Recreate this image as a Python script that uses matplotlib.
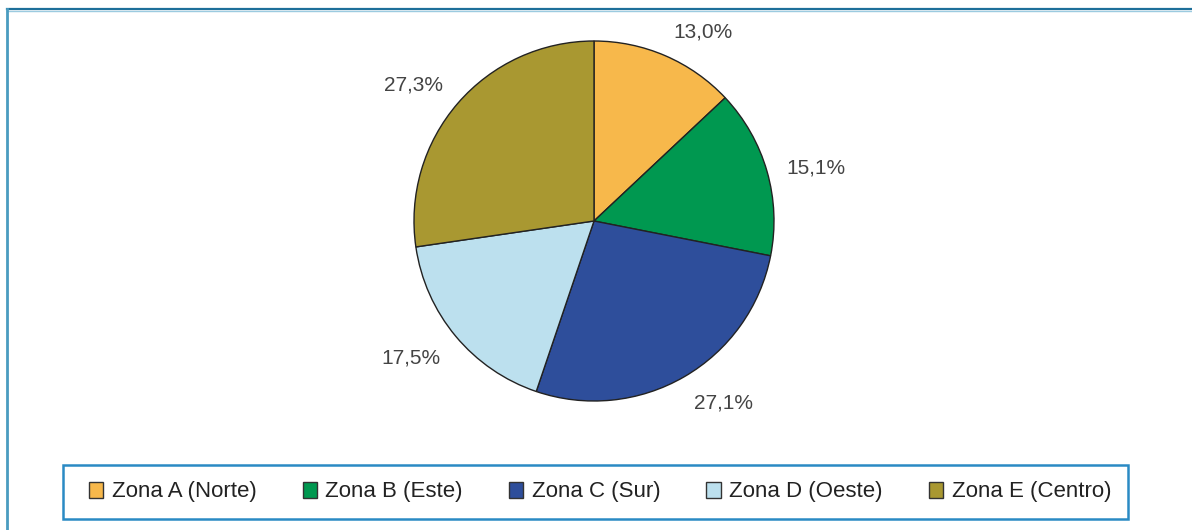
import numpy as np
import matplotlib.pyplot as plt
from matplotlib.lines import Line2D
from matplotlib.patches import Patch, Rectangle

# Datos
zonas = ['Zona A (Norte)', 'Zona B (Este)', 'Zona C (Sur)', 'Zona D (Oeste)', 'Zona E (Centro)']
porcentajes = [13.0, 15.1, 27.1, 17.5, 27.3]
colores = ['#F7B84B', '#009850', '#2E4E9B', '#BCE0EE', '#A99831']

plt.rcParams['font.family'] = ['Liberation Sans', 'DejaVu Sans']

W, H = 1192, 530
fig = plt.figure(figsize=(W / 100, H / 100), dpi=100)

# marco exterior
fig.add_artist(Line2D([7 / W, 1], [1 - 9 / H, 1 - 9 / H], color='#1d6f9a', lw=1.6))
fig.add_artist(Line2D([7 / W, 1], [1 - 10.5 / H, 1 - 10.5 / H], color='#9ccbe0', lw=1.0))
fig.add_artist(Line2D([7.5 / W, 7.5 / W], [0, 1 - 9 / H], color='#4a9cc0', lw=2.0))

# tarta
cx, cy, r = 594, 221, 180
ax = fig.add_axes([(cx - r) / W, (H - cy - r) / H, 2 * r / W, 2 * r / H])
wedges, _ = ax.pie(porcentajes, colors=colores, startangle=90, counterclock=False,
                   wedgeprops=dict(edgecolor='#222222', linewidth=1.0))
ax.set_xlim(-1, 1)
ax.set_ylim(-1, 1)
ax.set_aspect('equal')

# etiquetas fuera del borde, ancladas por la esquina mas cercana
R = 1.11
for w, p in zip(wedges, porcentajes):
    ang = np.deg2rad((w.theta1 + w.theta2) / 2)
    x, y = R * np.cos(ang), R * np.sin(ang)
    ha = 'left' if x > 0 else 'right'
    if abs(np.sin(ang)) < 0.3:
        va = 'center_baseline'
    elif y > 0:
        va = 'baseline'
    else:
        va = 'top'
    ax.text(x, y, f'{p:.1f}'.replace('.', ',') + '%', ha=ha, va=va,
            fontsize=15, color='#444444', clip_on=False)

# caja de la leyenda
fig.add_artist(Rectangle((63 / W, (H - 519) / H), 1065 / W, 54 / H, fill=False,
                         edgecolor='#2a8ac4', linewidth=1.8, transform=fig.transFigure))

# leyenda
handles = [Patch(facecolor=c, edgecolor='#333333', linewidth=1.0) for c in colores]
fig.legend(handles, zonas, ncol=5, loc='center', mode='expand',
           bbox_to_anchor=(89 / W, (H - 502) / H, 1022 / W, 20 / H),
           borderaxespad=0, borderpad=0, fontsize=16, frameon=False,
           handlelength=0.65, handleheight=0.7, handletextpad=0.38,
           labelcolor='#222222')

fig.savefig('out.png', dpi=100)
